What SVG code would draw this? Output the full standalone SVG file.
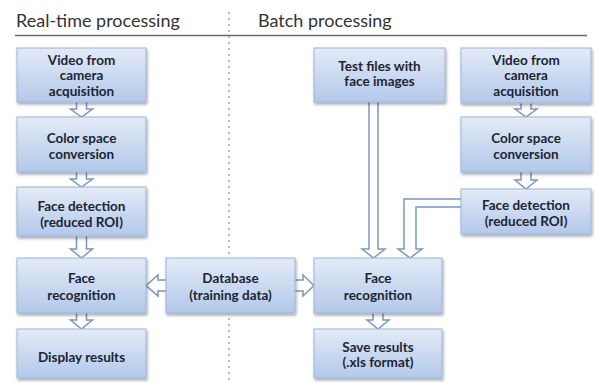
<svg xmlns="http://www.w3.org/2000/svg" width="598" height="383" viewBox="0 0 598 383">
<defs>
<linearGradient id="g" x1="0" y1="0" x2="0" y2="1">
<stop offset="0" stop-color="#e3ebf7"/>
<stop offset="1" stop-color="#b3c8ea"/>
</linearGradient>
<filter id="sh" x="-10%" y="-10%" width="125%" height="130%">
<feGaussianBlur in="SourceAlpha" stdDeviation="1.5"/>
<feOffset dx="1" dy="2" result="b"/>
<feComponentTransfer><feFuncA type="linear" slope="0.35"/></feComponentTransfer>
<feMerge><feMergeNode/><feMergeNode in="SourceGraphic"/></feMerge>
</filter>
</defs>
<style>
.box{fill:url(#g);stroke:#9db3d8;stroke-width:1;filter:url(#sh)}
.t{font-family:Lato,"Open Sans",sans-serif;font-weight:bold;font-size:13.5px;fill:#1c2533;text-anchor:middle}
.h{font-family:Lato,"Open Sans",sans-serif;font-size:18px;fill:#333}
.ar{fill:#fff;stroke:#7c97bf;stroke-width:1.5;stroke-linejoin:miter}
</style>
<rect width="598" height="383" fill="#fff"/>
<text class="h" x="16" y="27">Real-time processing</text>
<text class="h" x="258" y="27">Batch processing</text>
<line x1="15" y1="35.5" x2="587" y2="35.5" stroke="#6b6b6b" stroke-width="1.5"/>
<line x1="229" y1="12" x2="229" y2="383" stroke="#8a8a8a" stroke-width="1.2" stroke-dasharray="2,4"/>
<g id="connectors">
<path class="ar" d="M76.5,102 V109 H70.5 L81.5,117 L92.5,109 H86.5 V102"/>
<path class="ar" d="M76.5,172 V179 H70.5 L81.5,187 L92.5,179 H86.5 V172"/>
<path class="ar" d="M76.5,236 V249 H70.5 L81.5,258 L92.5,249 H86.5 V236"/>
<path class="ar" d="M76.5,313 V320 H70.5 L81.5,329 L92.5,320 H86.5 V313"/>
<path class="ar" d="M521,103 V109 H515 L526,117 L537,109 H531 V103"/>
<path class="ar" d="M521,172 V180 H515 L526,189 L537,180 H531 V172"/>
<path class="ar" d="M373,313 V320 H367 L378,329 L389,320 H383 V313"/>
<path class="ar" d="M369,102 V249 H362 L373.5,258 L385,249 H378 V102"/>
<path class="ar" d="M461,199 H404 V249 H398 L410,258 L422,249 H416 V207 H461"/>
<path class="ar" d="M166,280 H158 V275 L146,285.5 L158,296 V291 H166"/>
<path class="ar" d="M295,280 H303 V275 L314,285.5 L303,296 V291 H295"/>
</g>
<g id="rt-video"><rect class="box" x="17" y="48" width="129" height="54"/>
<text class="t" x="81.5" y="64.5">Video from</text><text class="t" x="81.5" y="80">camera</text><text class="t" x="81.5" y="95.5">acquisition</text></g>
<g id="rt-color"><rect class="box" x="17" y="117" width="129" height="55"/>
<text class="t" x="81.5" y="142.5">Color space</text><text class="t" x="81.5" y="158.5">conversion</text></g>
<g id="rt-detect"><rect class="box" x="17" y="187" width="129" height="49"/>
<text class="t" x="81.5" y="211">Face detection</text><text class="t" x="81.5" y="227">(reduced ROI)</text></g>
<g id="rt-recog"><rect class="box" x="17" y="258" width="129" height="55"/>
<text class="t" x="81.5" y="282.5">Face</text><text class="t" x="81.5" y="299.5">recognition</text></g>
<g id="rt-display"><rect class="box" x="17" y="329" width="129" height="49"/>
<text class="t" x="81.5" y="361.5">Display results</text></g>
<g id="database"><rect class="box" x="166" y="258" width="129" height="55"/>
<text class="t" x="230.5" y="282.5">Database</text><text class="t" x="230.5" y="299.5">(training data)</text></g>
<g id="b-test"><rect class="box" x="314" y="48" width="131" height="54"/>
<text class="t" x="379.5" y="70.5">Test files with</text><text class="t" x="379.5" y="86">face images</text></g>
<g id="b-recog"><rect class="box" x="314" y="258" width="128" height="55"/>
<text class="t" x="378" y="282.5">Face</text><text class="t" x="378" y="299.5">recognition</text></g>
<g id="b-save"><rect class="box" x="314" y="329" width="128" height="49"/>
<text class="t" x="378" y="351.5">Save results</text><text class="t" x="378" y="367">(.xls format)</text></g>
<g id="b-video"><rect class="box" x="461" y="48" width="130" height="55"/>
<text class="t" x="526" y="64.5">Video from</text><text class="t" x="526" y="80">camera</text><text class="t" x="526" y="95.5">acquisition</text></g>
<g id="b-color"><rect class="box" x="461" y="117" width="130" height="55"/>
<text class="t" x="526" y="142.5">Color space</text><text class="t" x="526" y="158.5">conversion</text></g>
<g id="b-detect"><rect class="box" x="461" y="189" width="130" height="45"/>
<text class="t" x="526" y="210">Face detection</text><text class="t" x="526" y="226">(reduced ROI)</text></g>
</svg>
